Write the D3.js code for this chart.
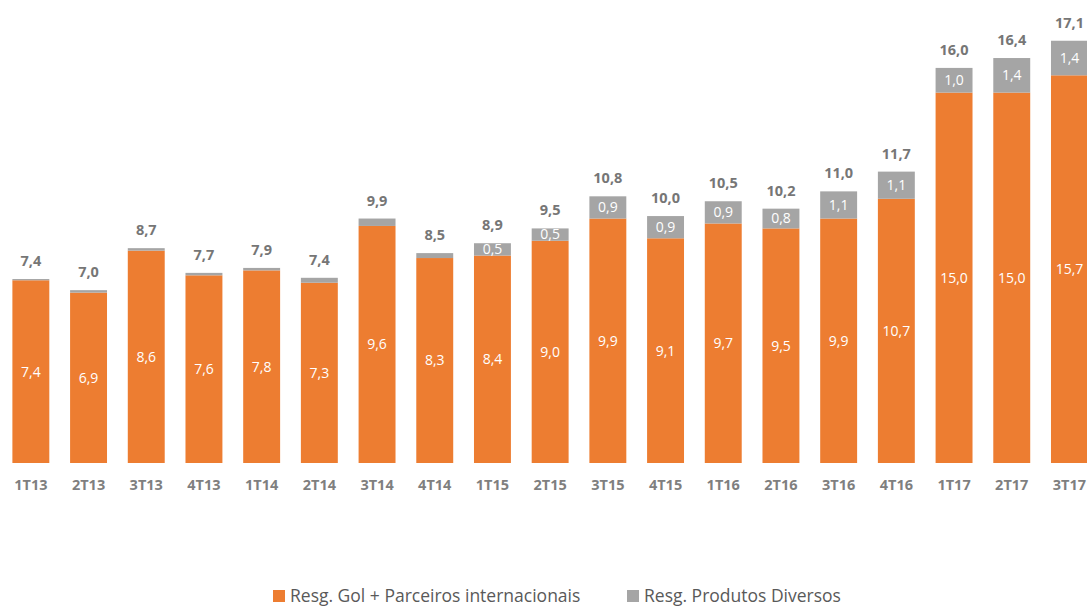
<!DOCTYPE html>
<html>
<head>
<meta charset="utf-8">
<script src="https://cdn.jsdelivr.net/npm/d3@7"></script>
<style>
  body { margin: 0; background: #fff; }
  svg { display: block; font-family: "Open Sans", "Noto Sans", sans-serif; }
</style>
</head>
<body>
<div id="chart"></div>
<script>
const quarters = ["1T13","2T13","3T13","4T13","1T14","2T14","3T14","4T14","1T15","2T15",
                  "3T15","4T15","1T16","2T16","3T16","4T16","1T17","2T17","3T17"];
const golParceiros = [7.4, 6.9, 8.6, 7.6, 7.8, 7.3, 9.6, 8.3, 8.4, 9.0,
                      9.9, 9.1, 9.7, 9.5, 9.9, 10.7, 15.0, 15.0, 15.7];
const produtosDiversos = [0.05, 0.1, 0.1, 0.1, 0.1, 0.2, 0.3, 0.2, 0.5, 0.5,
                          0.9, 0.9, 0.9, 0.8, 1.1, 1.1, 1.0, 1.4, 1.4];
const totals = [7.4, 7.0, 8.7, 7.7, 7.9, 7.4, 9.9, 8.5, 8.9, 9.5,
                10.8, 10.0, 10.5, 10.2, 11.0, 11.7, 16.0, 16.4, 17.1];
const seriesNames = ["Resg. Gol + Parceiros internacionais", "Resg. Produtos Diversos"];
const colors = ["#ED7D31", "#A5A5A5"];

const width = 1087, height = 606;
const fmt = v => v.toFixed(1).replace(".", ",");

const data = quarters.map((q, i) => ({ q, gol: golParceiros[i], div: produtosDiversos[i], total: totals[i] }));

const svg = d3.select("#chart").append("svg")
  .attr("width", width).attr("height", height);

const x = d3.scaleBand()
  .domain(quarters)
  .range([2, 2 + 57.7 * quarters.length])
  .paddingInner(0.36)
  .paddingOuter(0.18);

const y = d3.scaleLinear()
  .domain([0, 18.75])
  .range([463, 0]);

// Barras empilhadas
const stack = d3.stack().keys(["gol", "div"])(data);

const layers = svg.selectAll("g.layer")
  .data(stack).enter().append("g")
  .attr("class", "layer")
  .attr("fill", (d, i) => colors[i]);

layers.selectAll("rect")
  .data(d => d).enter().append("rect")
  .attr("x", d => x(d.data.q))
  .attr("y", d => y(d[1]))
  .attr("width", x.bandwidth())
  .attr("height", d => y(d[0]) - y(d[1]));

// Rótulos internos
svg.append("g").selectAll("text")
  .data(data).enter().append("text")
  .attr("x", d => x(d.q) + x.bandwidth() / 2)
  .attr("y", d => (y(0) + y(d.gol)) / 2)
  .attr("dy", "0.35em")
  .attr("text-anchor", "middle")
  .attr("fill", "#fff")
  .attr("font-size", 14)
  .text(d => fmt(d.gol));

svg.append("g").selectAll("text")
  .data(data.filter(d => d.div >= 0.4)).enter().append("text")
  .attr("x", d => x(d.q) + x.bandwidth() / 2)
  .attr("y", d => (y(d.gol) + y(d.gol + d.div)) / 2)
  .attr("dy", "0.35em")
  .attr("text-anchor", "middle")
  .attr("fill", "#fff")
  .attr("font-size", 14)
  .text(d => fmt(d.div));

// Totais
svg.append("g").selectAll("text")
  .data(data).enter().append("text")
  .attr("x", d => x(d.q) + x.bandwidth() / 2)
  .attr("y", d => y(d.gol + d.div) - 13)
  .attr("text-anchor", "middle")
  .attr("fill", "#767676")
  .attr("font-size", 14.5)
  .attr("font-weight", "bold")
  .text(d => fmt(d.total));

// Eixo X
const xAxis = svg.append("g")
  .attr("transform", `translate(0,${y(0)})`)
  .call(d3.axisBottom(x).tickSize(0).tickPadding(17));
xAxis.select(".domain").remove();
xAxis.selectAll("text")
  .attr("fill", "#7f7f7f")
  .attr("font-size", 14.5)
  .attr("font-weight", "bold")
  .attr("font-family", "'Open Sans', sans-serif");

// Legenda
const legend = svg.append("g").attr("transform", "translate(0,596)");
const legendX = [273, 627];
seriesNames.forEach((name, i) => {
  legend.append("rect")
    .attr("x", legendX[i]).attr("y", -6)
    .attr("width", 12).attr("height", 12)
    .attr("fill", colors[i]);
  legend.append("text")
    .attr("x", legendX[i] + 17).attr("y", 0)
    .attr("dy", "0.35em")
    .attr("fill", "#595959")
    .attr("font-size", 17.5)
    .text(name);
});
</script>
</body>
</html>
